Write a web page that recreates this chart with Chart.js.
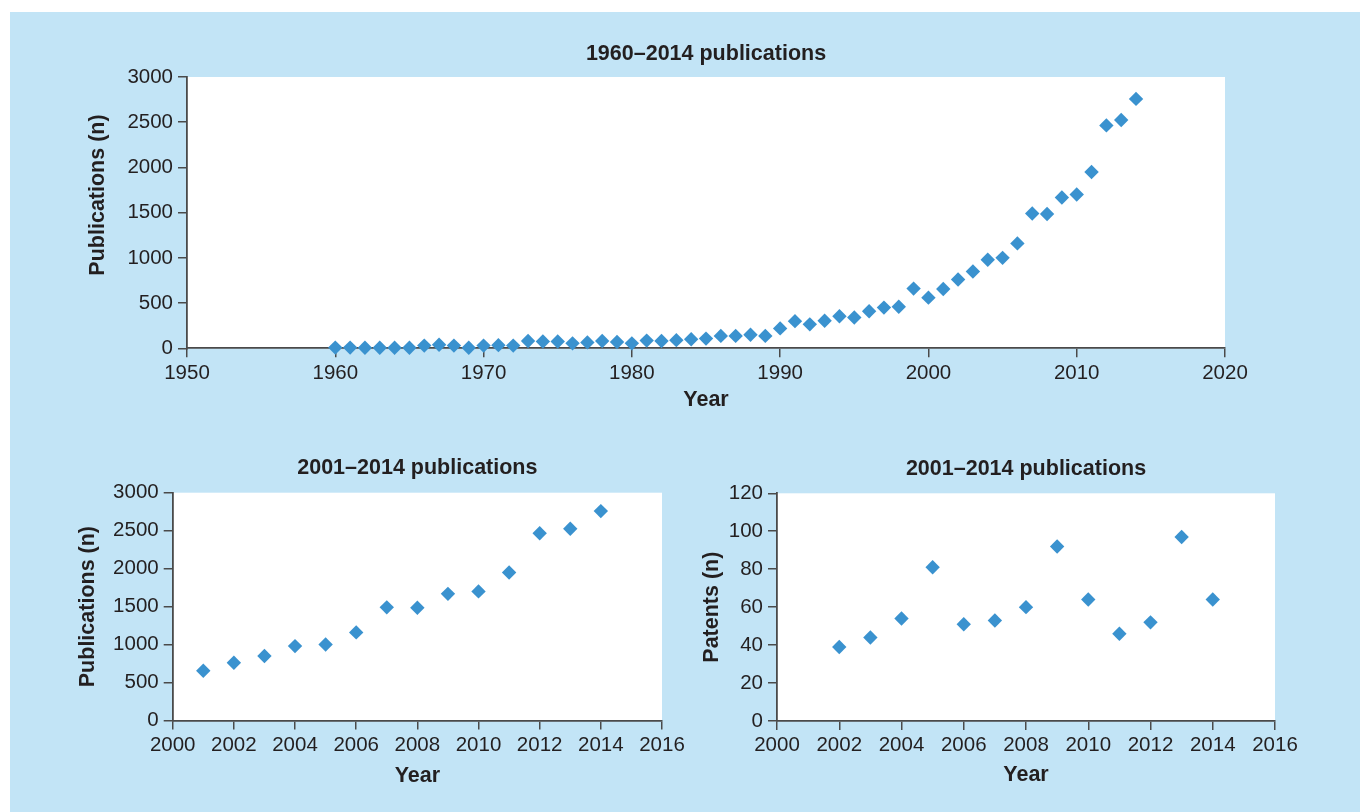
<!DOCTYPE html>
<html>
<head>
<meta charset="utf-8">
<script src="https://cdn.jsdelivr.net/npm/chart.js@4.4.1/dist/chart.umd.min.js"></script>
<style>
  html, body { margin: 0; padding: 0; background: #ffffff; }
  body { width: 1360px; height: 812px; position: relative; overflow: hidden; }
  #panel { position: absolute; left: 10px; top: 12px; width: 1350px; height: 800px; background: #c2e4f6; }
  canvas { position: absolute; }
  #allYears { left: 10px; top: 12px; }
  #recentPubs { left: 10px; top: 430px; }
  #recentPatents { left: 690px; top: 430px; }
</style>
</head>
<body>
<div id="panel"></div>
<canvas id="allYears" width="1350" height="410"></canvas>
<canvas id="recentPubs" width="680" height="382"></canvas>
<canvas id="recentPatents" width="670" height="382"></canvas>
<script>
// Publication counts per year, 1960–2014
const pubYears = [
  1960, 1961, 1962, 1963, 1964, 1965, 1966, 1967, 1968, 1969,
  1970, 1971, 1972, 1973, 1974, 1975, 1976, 1977, 1978, 1979,
  1980, 1981, 1982, 1983, 1984, 1985, 1986, 1987, 1988, 1989,
  1990, 1991, 1992, 1993, 1994, 1995, 1996, 1997, 1998, 1999,
  2000, 2001, 2002, 2003, 2004, 2005, 2006, 2007, 2008, 2009,
  2010, 2011, 2012, 2013, 2014
];
const pubCounts = [
  8, 8, 6, 6, 6, 6, 30, 40, 30, 6,
  30, 35, 30, 80, 75, 75, 55, 65, 80, 70,
  55, 85, 80, 90, 100, 107, 137, 137, 150, 137,
  220, 300, 265, 305, 355, 340, 410, 450, 460, 660,
  560, 655, 760, 850, 980, 1000, 1160, 1490, 1485, 1668,
  1700, 1950, 2465, 2525, 2758
];

// Patent counts per year, 2002–2014
const patentYears = [2002, 2003, 2004, 2005, 2006, 2007, 2008, 2009, 2010, 2011, 2012, 2013, 2014];
const patentCounts = [39, 44, 54, 81, 51, 53, 60, 92, 64, 46, 52, 97, 64];

// Axis ranges and tick steps
const xFullRange = [1950, 2020, 10];
const xRecentRange = [2000, 2016, 2];
const yPubRange = [0, 3000, 500];
const yPatentRange = [0, 120, 20];

const FONT = '"Liberation Sans", Arial, Helvetica, sans-serif';
const INK = '#231f20';
const AXIS = '#4a4a4a';
const MARK = '#3a92cf';
const TICK_SIZE = 20.5;
const BOLD_SIZE = 21.5;
const BOLD_LH = BOLD_SIZE * 1.2;

const toPoints = (xs, ys) => xs.map((x, i) => ({ x: x, y: ys[i] }));

// White plotting area behind the axes and markers
const plotBackground = {
  id: 'plotBackground',
  beforeDraw(chart) {
    const { ctx, chartArea: a } = chart;
    ctx.save();
    ctx.fillStyle = '#ffffff';
    ctx.fillRect(a.left, a.top, a.right - a.left, a.bottom - a.top);
    ctx.restore();
  }
};

// Rotated value-axis title placed at a given centre (used where the title sits off the axis middle)
const sideTitle = {
  id: 'sideTitle',
  afterDraw(chart, args, opts) {
    if (!opts || !opts.text) return;
    const ctx = chart.ctx;
    ctx.save();
    ctx.translate(opts.x, opts.y);
    ctx.rotate(-Math.PI / 2);
    ctx.font = 'bold ' + BOLD_SIZE + 'px ' + FONT;
    ctx.fillStyle = INK;
    ctx.textAlign = 'center';
    ctx.textBaseline = 'middle';
    ctx.fillText(opts.text, 0, 0);
    ctx.restore();
  }
};

function axisOptions(range, titleText, titlePadding, tickPad, fitSize, horizontal, showTitle) {
  return {
    type: 'linear',
    min: range[0],
    max: range[1],
    afterFit(scale) {
      if (horizontal) scale.height = fitSize; else scale.width = fitSize;
    },
    ticks: {
      stepSize: range[2],
      padding: tickPad,
      color: INK,
      font: { family: FONT, size: TICK_SIZE, lineHeight: 1.2 },
      maxRotation: 0,
      autoSkip: false,
      callback: (v) => String(v)
    },
    grid: {
      drawOnChartArea: false,
      drawTicks: true,
      tickLength: 9,
      color: AXIS,
      lineWidth: 1.5
    },
    border: { display: true, color: AXIS, width: 1.8 },
    title: {
      display: showTitle,
      text: titleText,
      color: INK,
      font: { family: FONT, size: BOLD_SIZE, weight: 'bold', lineHeight: 1.2 },
      padding: titlePadding
    }
  };
}

function buildChart(id, cfg) {
  const canvas = document.getElementById(id);
  const W = canvas.width, H = canvas.height;
  const a = cfg.area;
  const ownSide = cfg.yTitleY !== undefined;
  return new Chart(canvas, {
    type: 'scatter',
    data: {
      datasets: [{
        data: cfg.points,
        pointStyle: 'rectRot',
        pointRadius: 7.2,
        pointHoverRadius: 7.2,
        pointBackgroundColor: MARK,
        pointBorderWidth: 0,
        borderColor: MARK,
        clip: false
      }]
    },
    options: {
      responsive: false,
      animation: false,
      events: [],
      layout: { padding: { left: 0, top: 0, right: W - a.right, bottom: 0 } },
      plugins: {
        legend: { display: false },
        tooltip: { enabled: false },
        title: {
          display: true,
          text: cfg.title,
          color: INK,
          fullSize: false,
          font: { family: FONT, size: BOLD_SIZE, weight: 'bold', lineHeight: 1.2 },
          padding: { top: cfg.titleY - BOLD_LH / 2, bottom: a.top - cfg.titleY - BOLD_LH / 2 }
        },
        sideTitle: ownSide ? { text: cfg.yTitle, x: cfg.yTitleX, y: cfg.yTitleY } : {}
      },
      scales: {
        x: axisOptions(cfg.xRange, 'Year',
          { top: 0, bottom: H - cfg.xTitleY - BOLD_LH / 2 }, 3.5, H - a.bottom, true, true),
        y: axisOptions(cfg.yRange, cfg.yTitle,
          { top: cfg.yTitleX - BOLD_LH / 2, bottom: 0 }, 5, a.left, false, !ownSide)
      }
    },
    plugins: [plotBackground, sideTitle]
  });
}

buildChart('allYears', {
  points: toPoints(pubYears, pubCounts),
  xRange: xFullRange,
  yRange: yPubRange,
  title: '1960–2014 publications',
  yTitle: 'Publications (n)',
  area: { left: 177, top: 65, right: 1215, bottom: 336.3 },
  titleY: 42, yTitleX: 88, yTitleY: 183, xTitleY: 388
});

const recentStart = pubYears.indexOf(2001);
buildChart('recentPubs', {
  points: toPoints(pubYears.slice(recentStart), pubCounts.slice(recentStart)),
  xRange: xRecentRange,
  yRange: yPubRange,
  title: '2001–2014 publications',
  yTitle: 'Publications (n)',
  area: { left: 162.7, top: 62.7, right: 652, bottom: 290.5 },
  titleY: 38.5, yTitleX: 78, xTitleY: 346
});

buildChart('recentPatents', {
  points: toPoints(patentYears, patentCounts),
  xRange: xRecentRange,
  yRange: yPatentRange,
  title: '2001–2014 publications',
  yTitle: 'Patents (n)',
  area: { left: 87, top: 63.3, right: 585, bottom: 291 },
  titleY: 39, yTitleX: 22, xTitleY: 345
});
</script>
</body>
</html>
